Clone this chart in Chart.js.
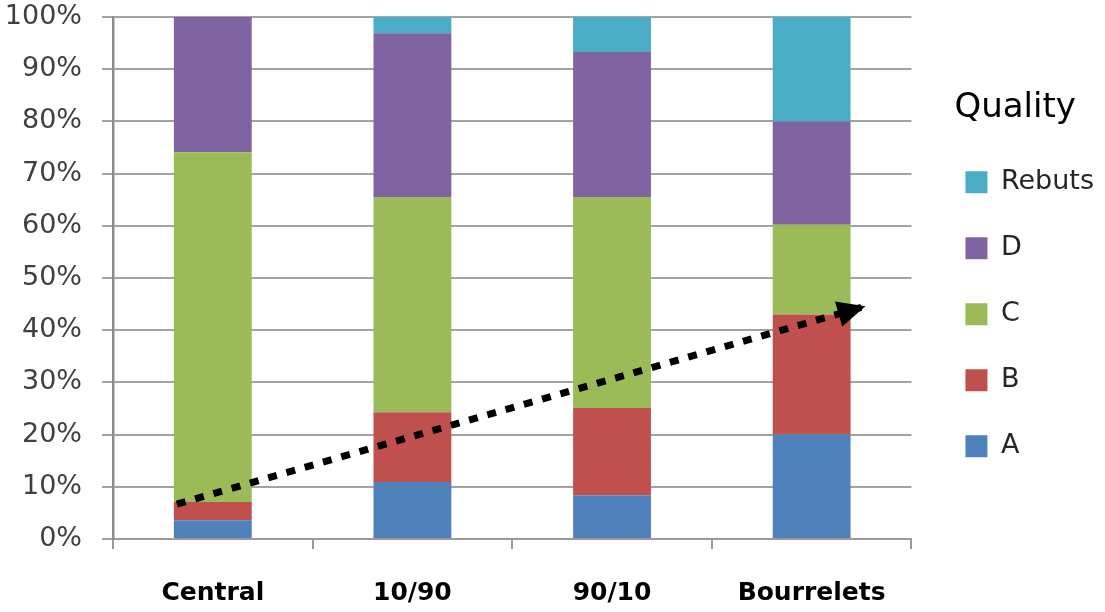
<!DOCTYPE html>
<html>
<head>
<meta charset="utf-8">
<script src="https://cdn.jsdelivr.net/npm/chart.js@4.4.1/dist/chart.umd.min.js"></script>
<style>
  html, body { margin: 0; padding: 0; background: #ffffff; }
  #wrap { width: 1105px; height: 612px; position: relative; }
</style>
</head>
<body>
<div id="wrap"><canvas id="c" width="1105" height="612"></canvas></div>
<script>
const categories = ['Central', '10/90', '90/10', 'Bourrelets'];
const seriesNames = ['A', 'B', 'C', 'D', 'Rebuts'];
const seriesA = [3.6, 10.9, 8.4, 20.0];
const seriesB = [3.5, 13.4, 16.7, 23.0];
const seriesC = [67.0, 41.2, 40.4, 17.2];
const seriesD = [25.9, 31.4, 27.8, 19.8];
const seriesRebuts = [0, 3.1, 6.7, 20.0];
const seriesColors = ['#4F81BD', '#C0504D', '#9BBB59', '#8064A2', '#4BACC6'];
// trend arrow, in category-index units (x) and percent (y)
const arrowX = [-0.18, 3.27];
const arrowY = [6.7, 44.6];
const legendTitle = 'Quality';

const seriesValues = [seriesA, seriesB, seriesC, seriesD, seriesRebuts];

const barDatasets = seriesValues.map((vals, i) => ({
  label: seriesNames[i],
  data: vals,
  backgroundColor: seriesColors[i],
  borderWidth: 0,
  grouped: false,
  categoryPercentage: 1,
  barPercentage: 0.39,
  xAxisID: 'x',
  yAxisID: 'y'
}));

const arrowDataset = {
  type: 'line',
  label: 'trend',
  data: arrowX.map((x, i) => ({ x: x, y: arrowY[i] })),
  xAxisID: 'xLin',
  yAxisID: 'y',
  borderColor: '#000000',
  borderWidth: 7,
  borderDash: [9, 10],
  borderCapStyle: 'butt',
  pointRadius: 0,
  fill: false,
  order: -1
};

const arrowHeadPlugin = {
  id: 'arrowHead',
  afterDatasetsDraw(chart) {
    const idx = chart.data.datasets.indexOf(arrowDataset);
    const meta = chart.getDatasetMeta(idx);
    if (!meta || !meta.data.length) return;
    const p0 = meta.data[meta.data.length - 2];
    const p1 = meta.data[meta.data.length - 1];
    const ang = Math.atan2(p1.y - p0.y, p1.x - p0.x);
    const len = 28, half = 13;
    const bx = p1.x - len * Math.cos(ang), by = p1.y - len * Math.sin(ang);
    const ctx = chart.ctx;
    ctx.save();
    ctx.fillStyle = '#000000';
    ctx.beginPath();
    ctx.moveTo(p1.x, p1.y);
    ctx.lineTo(bx + half * Math.sin(ang), by - half * Math.cos(ang));
    ctx.lineTo(bx - half * Math.sin(ang), by + half * Math.cos(ang));
    ctx.closePath();
    ctx.fill();
    ctx.restore();
  }
};

new Chart(document.getElementById('c'), {
  type: 'bar',
  data: {
    labels: categories,
    datasets: [...barDatasets, arrowDataset]
  },
  plugins: [arrowHeadPlugin],
  options: {
    responsive: false,
    animation: false,
    layout: { padding: { top: 17, right: 1, bottom: 0, left: 0 } },
    plugins: {
      tooltip: { enabled: false },
      legend: {
        position: 'right',
        align: 'start',
        reverse: true,
        title: {
          display: true,
          text: legendTitle,
          color: '#000000',
          font: { family: 'DejaVu Sans', size: 34 },
          padding: { top: 74, bottom: -2 }
        },
        labels: {
          filter: (item) => item.datasetIndex < 5,
          boxWidth: 22,
          boxHeight: 22,
          padding: 39,
          color: '#262626',
          font: { family: 'DejaVu Sans', size: 27 }
        }
      }
    },
    scales: {
      x: {
        stacked: true,
        offset: true,
        afterFit: (s) => { s.height = 73; },
        grid: {
          display: true,
          offset: true,
          drawOnChartArea: false,
          drawTicks: true,
          tickLength: 10,
          color: '#9a9a9a',
          lineWidth: 2
        },
        border: { display: true, color: '#9a9a9a', width: 2 },
        ticks: {
          color: '#000000',
          padding: 29,
          maxRotation: 0,
          font: { family: 'DejaVu Sans', size: 25, weight: 'bold' }
        }
      },
      xLin: {
        type: 'linear',
        display: false,
        offset: false,
        min: -0.5,
        max: 3.5
      },
      y: {
        stacked: true,
        min: 0,
        max: 100,
        afterFit: (s) => { s.width = 113; s.paddingTop = 16; s.paddingBottom = 16; },
        grid: {
          color: '#a3a3a3',
          lineWidth: 2,
          tickLength: 11,
          drawTicks: true
        },
        border: { display: true, color: '#8c8c8c', width: 2.5 },
        ticks: {
          stepSize: 10,
          padding: 20,
          color: '#404040',
          font: { family: 'DejaVu Sans', size: 27 },
          callback: (v) => v + '%'
        }
      },
      ySpacer: {
        type: 'linear',
        position: 'right',
        display: true,
        afterFit: (s) => { s.width = 15; s.paddingTop = 0; s.paddingBottom = 0; },
        grid: { display: false, drawTicks: false },
        border: { display: false },
        ticks: { display: false }
      }
    }
  }
});
</script>
</body>
</html>
